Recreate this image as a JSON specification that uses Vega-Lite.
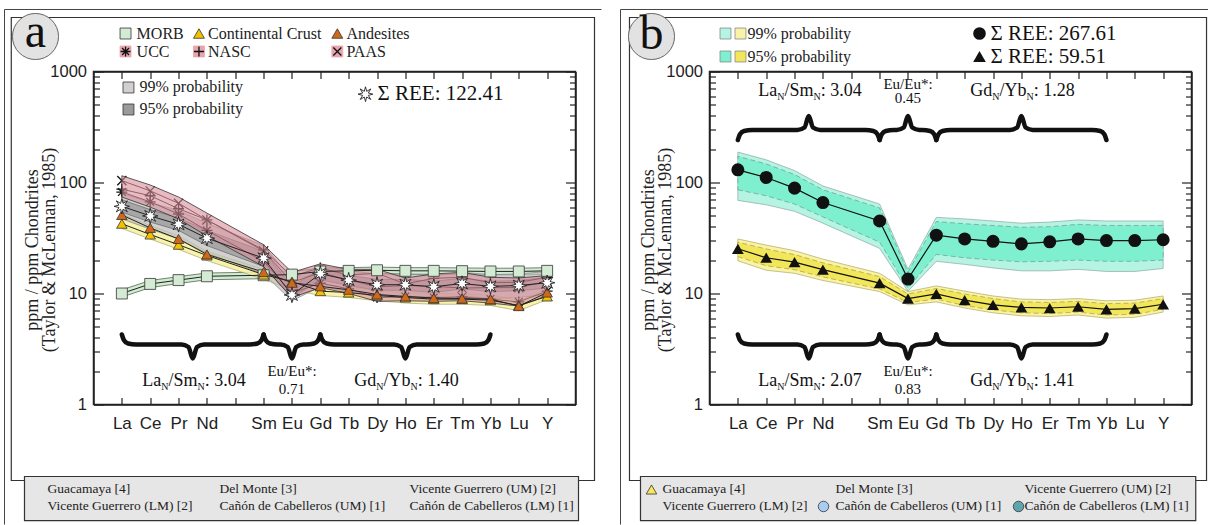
{
"$schema":"https://vega.github.io/schema/vega-lite/v6.json",
"background":"white",
"padding":{"left":2.5,"top":7.5,"right":0,"bottom":0},
"autosize":{"type":"pad"},
"spacing":134,
"bounds":"flush",
"config":{"view":{"stroke":"#222","strokeWidth":1.5},"axis":{"domainColor":"#222","domainWidth":1.5,"tickColor":"#222","tickWidth":1.2,"grid":false}},
"datasets":{
"a":[
{"i":1,"morb":10.0,"mlo":9.3,"mhi":10.8,"cc":42.5,"an":51,"smp":61,"ucc":82,"nasc":87,"paas":104,"rlo":74,"rhi":115,"g99lo":47,"g99hi":80,"g95lo":54,"g95hi":70,"ylo":38.5,"yhi":52},
{"i":2,"morb":12.2,"mlo":11.3,"mhi":13.1,"cc":34,"an":39,"smp":50,"ucc":67,"nasc":76,"paas":84,"rlo":60,"rhi":95,"g99lo":38,"g99hi":66,"g95lo":44,"g95hi":57,"ylo":31,"yhi":41},
{"i":3,"morb":13.2,"mlo":12.3,"mhi":14.2,"cc":27.5,"an":31,"smp":42,"ucc":52,"nasc":58,"paas":65,"rlo":47,"rhi":74,"g99lo":31,"g99hi":56,"g95lo":37,"g95hi":48,"ylo":25,"yhi":33},
{"i":4,"morb":14.3,"mlo":13.3,"mhi":15.3,"cc":22,"an":22.5,"smp":31.5,"ucc":37,"nasc":46,"paas":46,"rlo":33,"rhi":53,"g99lo":23,"g99hi":43,"g95lo":27,"g95hi":37,"ylo":19.8,"yhi":24},
{"i":6,"morb":14.6,"mlo":13.6,"mhi":15.6,"cc":14.8,"an":15.6,"smp":20.8,"ucc":19.5,"nasc":24.7,"paas":24.2,"rlo":17.5,"rhi":27.5,"g99lo":15,"g99hi":27,"g95lo":17.5,"g95hi":24,"ylo":13.4,"yhi":16.5},
{"i":7,"morb":14.8,"mlo":13.8,"mhi":15.8,"cc":12.8,"an":12.5,"smp":9.7,"ucc":10.1,"nasc":14.3,"paas":12.6,"rlo":9.2,"rhi":15.5,"g99lo":8.6,"g99hi":13.5,"g95lo":9.1,"g95hi":11.5,"ylo":10.8,"yhi":13.6},
{"i":8,"morb":15.8,"mlo":14.7,"mhi":16.9,"cc":10.5,"an":11.6,"smp":15.1,"ucc":12.4,"nasc":17.0,"paas":15.4,"rlo":11.3,"rhi":18.5,"g99lo":11.5,"g99hi":18,"g95lo":13.3,"g95hi":16.8,"ylo":9.6,"yhi":12.2},
{"i":9,"morb":16.0,"mlo":14.9,"mhi":17.1,"cc":10.2,"an":10.8,"smp":13.2,"ucc":11.0,"nasc":14.7,"paas":13.3,"rlo":10,"rhi":16.5,"g99lo":10.5,"g99hi":16,"g95lo":11.8,"g95hi":14.6,"ylo":9.2,"yhi":11.5},
{"i":10,"morb":16.2,"mlo":15.1,"mhi":17.3,"cc":9.6,"an":9.8,"smp":12.0,"ucc":9.2,"nasc":15.2,"paas":11.5,"rlo":8.5,"rhi":16.5,"g99lo":9.3,"g99hi":15,"g95lo":10.7,"g95hi":13.4,"ylo":8.6,"yhi":10.6},
{"i":11,"morb":16.0,"mlo":14.9,"mhi":17.1,"cc":9.2,"an":9.4,"smp":12.0,"ucc":9.4,"nasc":12.2,"paas":11.8,"rlo":8.6,"rhi":13.8,"g99lo":9.2,"g99hi":15,"g95lo":10.7,"g95hi":13.4,"ylo":8.2,"yhi":10.2},
{"i":12,"morb":16.0,"mlo":14.9,"mhi":17.1,"cc":8.9,"an":9.1,"smp":11.5,"ucc":9.2,"nasc":13.7,"paas":11.6,"rlo":8.5,"rhi":15,"g99lo":8.8,"g99hi":14.5,"g95lo":10.2,"g95hi":12.9,"ylo":8.0,"yhi":10.0},
{"i":13,"morb":15.9,"mlo":14.8,"mhi":17.0,"cc":8.9,"an":9.0,"smp":12.3,"ucc":9.3,"nasc":14.0,"paas":11.2,"rlo":8.6,"rhi":15.5,"g99lo":9.5,"g99hi":15.5,"g95lo":11,"g95hi":13.7,"ylo":8.0,"yhi":9.9},
{"i":14,"morb":15.8,"mlo":14.7,"mhi":16.9,"cc":8.7,"an":8.9,"smp":11.6,"ucc":8.9,"nasc":12.5,"paas":11.3,"rlo":8.2,"rhi":14,"g99lo":9,"g99hi":14.8,"g95lo":10.4,"g95hi":12.9,"ylo":7.8,"yhi":9.8},
{"i":15,"morb":15.8,"mlo":14.7,"mhi":16.9,"cc":7.8,"an":7.7,"smp":11.8,"ucc":8.4,"nasc":12.6,"paas":11.3,"rlo":7.7,"rhi":13.8,"g99lo":9.2,"g99hi":15,"g95lo":10.6,"g95hi":13.1,"ylo":7.0,"yhi":8.6},
{"i":16,"morb":16.0,"mlo":14.9,"mhi":17.1,"cc":9.4,"an":10.2,"smp":12.5,"ucc":10.5,"nasc":14.0,"paas":12.9,"rlo":9.6,"rhi":14.5,"g99lo":9.8,"g99hi":15.8,"g95lo":11.2,"g95hi":14,"ylo":8.8,"yhi":10.8}
],
"b":[
{"i":1,"c":130,"c99lo":69,"c99hi":188,"c95lo":86,"c95hi":172,"t":25.3,"t99lo":19.7,"t99hi":31,"t95lo":21.5,"t95hi":29},
{"i":2,"c":111,"c99lo":63,"c99hi":160,"c95lo":76,"c95hi":147,"t":21,"t99lo":16.2,"t99hi":27.3,"t95lo":17.8,"t95hi":25.2},
{"i":3,"c":89,"c99lo":55,"c99hi":128,"c95lo":64,"c95hi":118,"t":19.2,"t99lo":15.2,"t99hi":24.3,"t95lo":16.4,"t95hi":22.4},
{"i":4,"c":66,"c99lo":43,"c99hi":93,"c95lo":49,"c95hi":86,"t":16.4,"t99lo":13.1,"t99hi":20.4,"t95lo":14.1,"t95hi":18.9},
{"i":6,"c":45,"c99lo":25.5,"c99hi":64,"c95lo":29,"c95hi":59,"t":12.4,"t99lo":10.4,"t99hi":15.2,"t95lo":11.0,"t95hi":14.2},
{"i":7,"c":13.5,"c99lo":10.5,"c99hi":16.5,"c95lo":11.2,"c95hi":15.6,"t":9.0,"t99lo":7.9,"t99hi":10.4,"t95lo":8.3,"t95hi":9.9},
{"i":8,"c":33.5,"c99lo":19.5,"c99hi":48.5,"c95lo":22.5,"c95hi":44.5,"t":9.9,"t99lo":8.4,"t99hi":11.7,"t95lo":8.9,"t95hi":11.1},
{"i":9,"c":31,"c99lo":18.3,"c99hi":47,"c95lo":21,"c95hi":42.5,"t":8.7,"t99lo":7.4,"t99hi":10.5,"t95lo":7.8,"t95hi":9.9},
{"i":10,"c":29.5,"c99lo":17,"c99hi":45,"c95lo":20,"c95hi":41,"t":7.9,"t99lo":6.7,"t99hi":9.5,"t95lo":7.1,"t95hi":9.0},
{"i":11,"c":28,"c99lo":16,"c99hi":43,"c95lo":19.3,"c95hi":39.5,"t":7.5,"t99lo":6.3,"t99hi":8.9,"t95lo":6.7,"t95hi":8.4},
{"i":12,"c":29.2,"c99lo":16,"c99hi":44,"c95lo":19.5,"c95hi":40,"t":7.4,"t99lo":6.2,"t99hi":8.8,"t95lo":6.6,"t95hi":8.3},
{"i":13,"c":31,"c99lo":16.5,"c99hi":46,"c95lo":20,"c95hi":42,"t":7.6,"t99lo":6.4,"t99hi":9.0,"t95lo":6.8,"t95hi":8.5},
{"i":14,"c":30,"c99lo":15.8,"c99hi":45,"c95lo":19.5,"c95hi":41,"t":7.2,"t99lo":6.0,"t99hi":8.6,"t95lo":6.4,"t95hi":8.1},
{"i":15,"c":30,"c99lo":15.8,"c99hi":45,"c95lo":19.5,"c95hi":41,"t":7.3,"t99lo":6.1,"t99hi":8.7,"t95lo":6.5,"t95hi":8.2},
{"i":16,"c":30.5,"c99lo":16.8,"c99hi":45,"c95lo":20,"c95hi":41,"t":8.0,"t99lo":6.8,"t99hi":9.5,"t95lo":7.2,"t95hi":9.0}
],
"brL":[
{"b":1,"x":1,"y":4.272},{"b":1,"x":1.07,"y":3.811},{"b":1,"x":1.22,"y":3.544},{"b":1,"x":1.5,"y":3.471},{"b":1,"x":3.1,"y":3.471},{"b":1,"x":3.35,"y":3.296},{"b":1,"x":3.5,"y":2.597},{"b":1,"x":3.65,"y":3.296},{"b":1,"x":3.9,"y":3.471},{"b":1,"x":5.5,"y":3.471},{"b":1,"x":5.78,"y":3.544},{"b":1,"x":5.93,"y":3.811},{"b":1,"x":6,"y":4.272},
{"b":2,"x":6,"y":4.272},{"b":2,"x":6.07,"y":3.811},{"b":2,"x":6.22,"y":3.544},{"b":2,"x":6.5,"y":3.471},{"b":2,"x":6.6,"y":3.471},{"b":2,"x":6.85,"y":3.296},{"b":2,"x":7,"y":2.597},{"b":2,"x":7.15,"y":3.296},{"b":2,"x":7.4,"y":3.471},{"b":2,"x":7.5,"y":3.471},{"b":2,"x":7.78,"y":3.544},{"b":2,"x":7.93,"y":3.811},{"b":2,"x":8,"y":4.272},
{"b":3,"x":8,"y":4.272},{"b":3,"x":8.07,"y":3.811},{"b":3,"x":8.22,"y":3.544},{"b":3,"x":8.5,"y":3.471},{"b":3,"x":10.6,"y":3.471},{"b":3,"x":10.85,"y":3.296},{"b":3,"x":11,"y":2.597},{"b":3,"x":11.15,"y":3.296},{"b":3,"x":11.4,"y":3.471},{"b":3,"x":13.5,"y":3.471},{"b":3,"x":13.78,"y":3.544},{"b":3,"x":13.93,"y":3.811},{"b":3,"x":14,"y":4.272}
],
"brT":[
{"b":1,"x":1,"y":241.5},{"b":1,"x":1.07,"y":270.7},{"b":1,"x":1.22,"y":291.1},{"b":1,"x":1.5,"y":297.2},{"b":1,"x":3.1,"y":297.2},{"b":1,"x":3.35,"y":313.1},{"b":1,"x":3.5,"y":397.3},{"b":1,"x":3.65,"y":313.1},{"b":1,"x":3.9,"y":297.2},{"b":1,"x":5.5,"y":297.2},{"b":1,"x":5.78,"y":291.1},{"b":1,"x":5.93,"y":270.7},{"b":1,"x":6,"y":241.5},
{"b":2,"x":6,"y":241.5},{"b":2,"x":6.07,"y":270.7},{"b":2,"x":6.22,"y":291.1},{"b":2,"x":6.5,"y":297.2},{"b":2,"x":6.6,"y":297.2},{"b":2,"x":6.85,"y":313.1},{"b":2,"x":7,"y":397.3},{"b":2,"x":7.15,"y":313.1},{"b":2,"x":7.4,"y":297.2},{"b":2,"x":7.5,"y":297.2},{"b":2,"x":7.78,"y":291.1},{"b":2,"x":7.93,"y":270.7},{"b":2,"x":8,"y":241.5},
{"b":3,"x":8,"y":241.5},{"b":3,"x":8.07,"y":270.7},{"b":3,"x":8.22,"y":291.1},{"b":3,"x":8.5,"y":297.2},{"b":3,"x":10.6,"y":297.2},{"b":3,"x":10.85,"y":313.1},{"b":3,"x":11,"y":397.3},{"b":3,"x":11.15,"y":313.1},{"b":3,"x":11.4,"y":297.2},{"b":3,"x":13.5,"y":297.2},{"b":3,"x":13.78,"y":291.1},{"b":3,"x":13.93,"y":270.7},{"b":3,"x":14,"y":241.5}
]
},
"hconcat":[
{
"width":482,"height":333,
"resolve":{"axis":{"x":"independent","y":"independent"},"scale":{"shape":"independent","fill":"independent","stroke":"independent"}},
"layer":[
{"data":{"values":[{"x":-3.139,"y":3619,"x2":-3.139,"y2":0.0829},{"x":-3.139,"y":3619,"x2":17.917,"y2":3619}]},
 "mark":{"type":"rule","color":"#444","strokeWidth":1},
 "encoding":{"x":{"field":"x","type":"quantitative","scale":{"domain":[0,17],"nice":false,"zero":false},"axis":null},"y":{"field":"y","type":"quantitative","scale":{"type":"log","domain":[1,1000],"nice":false},"axis":null},"x2":{"field":"x2"},"y2":{"field":"y2"}}},
{"data":{"values":[{"x":-2.9,"x2":17.67,"y":3066,"y2":0.2066}]},
 "mark":{"type":"rect","fill":"white","fillOpacity":0,"stroke":"#333","strokeWidth":1.2},
 "encoding":{"x":{"field":"x","type":"quantitative","scale":{"domain":[0,17],"nice":false,"zero":false},"axis":null},"y":{"field":"y","type":"quantitative","scale":{"type":"log","domain":[1,1000],"nice":false},"axis":null},"x2":{"field":"x2"},"y2":{"field":"y2"}}},
{"data":{"values":[{"x":-2.434,"x2":17.106,"y":0.2245,"y2":0.0901}]},
 "mark":{"type":"rect","fill":"#e6e6e6","stroke":"#333","strokeWidth":1.2},
 "encoding":{"x":{"field":"x","type":"quantitative","scale":{"domain":[0,17],"nice":false,"zero":false},"axis":null},"y":{"field":"y","type":"quantitative","scale":{"type":"log","domain":[1,1000],"nice":false},"axis":null},"x2":{"field":"x2"},"y2":{"field":"y2"}}},
{"data":{"name":"a"},
 "mark":{"type":"area","fill":"#d3ead3","stroke":"#4d6b4d","strokeWidth":0.8},
 "encoding":{"x":{"field":"i","type":"quantitative","scale":{"domain":[0,17],"nice":false,"zero":false},
   "axis":{"orient":"bottom","values":[1,2,3,4,5,6,7,8,9,10,11,12,13,14,15,16],"tickSize":-7,"labelExpr":"['','La','Ce','Pr','Nd','','Sm','Eu','Gd','Tb','Dy','Ho','Er','Tm','Yb','Lu','Y'][datum.value]","labelFont":"Liberation Sans","labelFontSize":17,"labelColor":"#222","labelPadding":18,"labelFlush":false,"labelOverlap":false,"title":null}},
  "y":{"field":"mlo","type":"quantitative","scale":{"type":"log","domain":[1,1000],"nice":false},
   "axis":{"orient":"left","values":[1,10,100,1000],"tickSize":-10,"labelExpr":"'' + datum.value","labelFont":"Liberation Sans","labelFontSize":16.5,"labelColor":"#222","labelPadding":17,"labelFlush":false,"labelOverlap":false,"title":["ppm / ppm Chondrites","(Taylor & McLennan, 1985)"],"titleFont":"Liberation Serif","titleFontSize":18,"titleFontWeight":"normal","titleColor":"#222","titleAngle":-90,"titleX":-70.5,"titleY":178,"titleAlign":"center","titleBaseline":"top","titleLineHeight":17}},
  "y2":{"field":"mhi"}}},
{"data":{"name":"a"},
 "mark":{"type":"area","fill":"#f6f19c","fillOpacity":0.85,"stroke":"#9a9560","strokeWidth":0.6},
 "encoding":{"x":{"field":"i","type":"quantitative","scale":{"domain":[0,17],"nice":false,"zero":false},
   "axis":{"orient":"top","values":[1,2,3,4,5,6,7,8,9,10,11,12,13,14,15,16],"tickSize":-7,"labels":false,"title":null}},
  "y":{"field":"ylo","type":"quantitative","scale":{"type":"log","domain":[1,1000],"nice":false},
   "axis":{"orient":"left","values":[2,3,4,5,6,7,8,9,20,30,40,50,60,70,80,90,200,300,400,500,600,700,800,900],"tickSize":-6,"labels":false,"domain":false,"title":null}},
  "y2":{"field":"yhi"}}},
{"data":{"name":"a"},
 "mark":{"type":"area","fill":"#bdbdbd","fillOpacity":0.7,"stroke":"#777","strokeWidth":0.6},
 "encoding":{"x":{"field":"i","type":"quantitative","scale":{"domain":[0,17],"nice":false,"zero":false},"axis":null},
  "y":{"field":"g99lo","type":"quantitative","scale":{"type":"log","domain":[1,1000],"nice":false},
   "axis":{"orient":"right","values":[1,10,100,1000],"tickSize":-10,"labels":false,"title":null}},
  "y2":{"field":"g99hi"}}},
{"data":{"name":"a"},
 "mark":{"type":"area","fill":"#8a8a8a","fillOpacity":0.6,"stroke":"#555","strokeWidth":0.6},
 "encoding":{"x":{"field":"i","type":"quantitative","scale":{"domain":[0,17],"nice":false,"zero":false},"axis":null},
  "y":{"field":"g95lo","type":"quantitative","scale":{"type":"log","domain":[1,1000],"nice":false},
   "axis":{"orient":"right","values":[2,3,4,5,6,7,8,9,20,30,40,50,60,70,80,90,200,300,400,500,600,700,800,900],"tickSize":-6,"labels":false,"domain":false,"title":null}},
  "y2":{"field":"g95hi"}}},
{"data":{"name":"a"},
 "transform":[{"fold":["ucc","nasc","paas"],"as":["k","v"]}],
 "mark":{"type":"line","color":"#222","strokeWidth":1},
 "encoding":{"x":{"field":"i","type":"quantitative","scale":{"domain":[0,17],"nice":false,"zero":false},"axis":null},
  "y":{"field":"v","type":"quantitative","scale":{"type":"log","domain":[1,1000],"nice":false},"axis":null},
  "detail":{"field":"k"}}},
{"data":{"name":"a"},
 "mark":{"type":"point","shape":"M0,-1L0,1M-1,0L1,0M-0.7,-0.7L0.7,0.7M-0.7,0.7L0.7,-0.7","filled":false,"color":"#111","strokeWidth":1.3,"size":120,"opacity":1},
 "encoding":{"x":{"field":"i","type":"quantitative","scale":{"domain":[0,17],"nice":false,"zero":false},"axis":null},
  "y":{"field":"ucc","type":"quantitative","scale":{"type":"log","domain":[1,1000],"nice":false},"axis":null}}},
{"data":{"name":"a"},
 "mark":{"type":"point","shape":"M0,-1L0,1M-1,0L1,0","filled":false,"color":"#111","strokeWidth":1.3,"size":120,"opacity":1},
 "encoding":{"x":{"field":"i","type":"quantitative","scale":{"domain":[0,17],"nice":false,"zero":false},"axis":null},
  "y":{"field":"nasc","type":"quantitative","scale":{"type":"log","domain":[1,1000],"nice":false},"axis":null}}},
{"data":{"name":"a"},
 "mark":{"type":"point","shape":"M-0.8,-0.8L0.8,0.8M-0.8,0.8L0.8,-0.8","filled":false,"color":"#111","strokeWidth":1.3,"size":130,"opacity":1},
 "encoding":{"x":{"field":"i","type":"quantitative","scale":{"domain":[0,17],"nice":false,"zero":false},"axis":null},
  "y":{"field":"paas","type":"quantitative","scale":{"type":"log","domain":[1,1000],"nice":false},"axis":null}}},
{"data":{"name":"a"},
 "mark":{"type":"area","fill":"#d88e9b","fillOpacity":0.6,"stroke":"#333","strokeWidth":0.8},
 "encoding":{"x":{"field":"i","type":"quantitative","scale":{"domain":[0,17],"nice":false,"zero":false},"axis":null},
  "y":{"field":"rlo","type":"quantitative","scale":{"type":"log","domain":[1,1000],"nice":false},"axis":null},
  "y2":{"field":"rhi"}}},
{"data":{"name":"a"},
 "transform":[{"fold":["morb","cc","an","smp"],"as":["k","v"]}],
 "mark":{"type":"line","color":"#222","strokeWidth":1},
 "encoding":{"x":{"field":"i","type":"quantitative","scale":{"domain":[0,17],"nice":false,"zero":false},"axis":null},
  "y":{"field":"v","type":"quantitative","scale":{"type":"log","domain":[1,1000],"nice":false},"axis":null},
  "detail":{"field":"k"}}},
{"data":{"name":"a"},
 "mark":{"type":"point","shape":"square","filled":true,"fill":"#d3ead3","stroke":"#333","strokeWidth":0.8,"size":120,"opacity":1},
 "encoding":{"x":{"field":"i","type":"quantitative","scale":{"domain":[0,17],"nice":false,"zero":false},"axis":null},
  "y":{"field":"morb","type":"quantitative","scale":{"type":"log","domain":[1,1000],"nice":false},"axis":null}}},
{"data":{"name":"a"},
 "mark":{"type":"point","shape":"triangle-up","filled":true,"fill":"#f2c200","stroke":"#333","strokeWidth":0.8,"size":110,"opacity":1},
 "encoding":{"x":{"field":"i","type":"quantitative","scale":{"domain":[0,17],"nice":false,"zero":false},"axis":null},
  "y":{"field":"cc","type":"quantitative","scale":{"type":"log","domain":[1,1000],"nice":false},"axis":null}}},
{"data":{"name":"a"},
 "mark":{"type":"point","shape":"triangle-up","filled":true,"fill":"#d0681c","stroke":"#333","strokeWidth":0.8,"size":110,"opacity":1},
 "encoding":{"x":{"field":"i","type":"quantitative","scale":{"domain":[0,17],"nice":false,"zero":false},"axis":null},
  "y":{"field":"an","type":"quantitative","scale":{"type":"log","domain":[1,1000],"nice":false},"axis":null}}},
{"data":{"name":"a"},
 "mark":{"type":"point","shape":"M0,-1L0.16,-0.38L0.71,-0.71L0.38,-0.16L1,0L0.38,0.16L0.71,0.71L0.16,0.38L0,1L-0.16,0.38L-0.71,0.71L-0.38,0.16L-1,0L-0.38,-0.16L-0.71,-0.71L-0.16,-0.38Z","filled":true,"fill":"white","stroke":"#222","strokeWidth":0.9,"size":240,"opacity":1},
 "encoding":{"x":{"field":"i","type":"quantitative","scale":{"domain":[0,17],"nice":false,"zero":false},"axis":null},
  "y":{"field":"smp","type":"quantitative","scale":{"type":"log","domain":[1,1000],"nice":false},"axis":null}}},
{"data":{"name":"brL"},
 "mark":{"type":"line","color":"#111","strokeWidth":4.5,"interpolate":"monotone","strokeCap":"round"},
 "encoding":{"x":{"field":"x","type":"quantitative","scale":{"domain":[0,17],"nice":false,"zero":false},"axis":null},
  "y":{"field":"y","type":"quantitative","scale":{"type":"log","domain":[1,1000],"nice":false},"axis":null},
  "detail":{"field":"b"}}},
{"data":{"values":[{"x":1.13,"y":2199,"k":"morb"},{"x":3.72,"y":2199,"k":"cc"},{"x":8.6,"y":2199,"k":"an"},{"x":1.13,"y":1514,"k":"ucc"},{"x":3.72,"y":1514,"k":"nasc"},{"x":8.6,"y":1514,"k":"paas"},{"x":1.234,"y":717.8,"k":"g99"},{"x":1.234,"y":454.7,"k":"g95"}]},
 "mark":{"type":"point","filled":true,"strokeWidth":0.8,"size":120,"opacity":1},
 "encoding":{"x":{"field":"x","type":"quantitative","scale":{"domain":[0,17],"nice":false,"zero":false},"axis":null},
  "y":{"field":"y","type":"quantitative","scale":{"type":"log","domain":[1,1000],"nice":false},"axis":null},
  "shape":{"field":"k","type":"nominal","legend":null,"scale":{"domain":["morb","cc","an","ucc","nasc","paas","g99","g95"],"range":["square","triangle-up","triangle-up","square","square","square","square","square"]}},
  "fill":{"field":"k","type":"nominal","legend":null,"scale":{"domain":["morb","cc","an","ucc","nasc","paas","g99","g95"],"range":["#d3ead3","#f2c200","#d0681c","#e6a5af","#e6a5af","#e6a5af","#d0d0d0","#9a9a9a"]}},
  "stroke":{"field":"k","type":"nominal","legend":null,"scale":{"domain":["morb","cc","an","ucc","nasc","paas","g99","g95"],"range":["#333","#333","#333","#e6a5af","#e6a5af","#e6a5af","#333","#333"]}}}},
{"data":{"values":[{"x":1.13,"y":1514,"k":"ucc"},{"x":3.72,"y":1514,"k":"nasc"},{"x":8.6,"y":1514,"k":"paas"}]},
 "mark":{"type":"point","filled":false,"color":"#111","strokeWidth":1.3,"size":100,"opacity":1},
 "encoding":{"x":{"field":"x","type":"quantitative","scale":{"domain":[0,17],"nice":false,"zero":false},"axis":null},
  "y":{"field":"y","type":"quantitative","scale":{"type":"log","domain":[1,1000],"nice":false},"axis":null},
  "shape":{"field":"k","type":"nominal","legend":null,"scale":{"domain":["ucc","nasc","paas"],"range":["M0,-1L0,1M-1,0L1,0M-0.7,-0.7L0.7,0.7M-0.7,0.7L0.7,-0.7","M0,-1L0,1M-1,0L1,0","M-0.8,-0.8L0.8,0.8M-0.8,0.8L0.8,-0.8"]}}}},
{"data":{"values":[{"x":9.593,"y":624.6}]},
 "mark":{"type":"point","shape":"M0,-1L0.16,-0.38L0.71,-0.71L0.38,-0.16L1,0L0.38,0.16L0.71,0.71L0.16,0.38L0,1L-0.16,0.38L-0.71,0.71L-0.38,0.16L-1,0L-0.38,-0.16L-0.71,-0.71L-0.16,-0.38Z","filled":true,"fill":"white","stroke":"#222","strokeWidth":0.9,"size":220,"opacity":1},
 "encoding":{"x":{"field":"x","type":"quantitative","scale":{"domain":[0,17],"nice":false,"zero":false},"axis":null},
  "y":{"field":"y","type":"quantitative","scale":{"type":"log","domain":[1,1000],"nice":false},"axis":null}}},
{"data":{"values":[{"x":1.52,"y":2199,"t":"MORB"},{"x":4.04,"y":2199,"t":"Continental Crust"},{"x":8.92,"y":2199,"t":"Andesites"},{"x":1.52,"y":1514,"t":"UCC"},{"x":4.04,"y":1514,"t":"NASC"},{"x":8.92,"y":1514,"t":"PAAS"},{"x":1.622,"y":717.8,"t":"99% probability"},{"x":1.622,"y":454.7,"t":"95% probability"}]},
 "mark":{"type":"text","font":"Liberation Serif","fontSize":16,"align":"left","baseline":"middle","color":"#222"},
 "encoding":{"x":{"field":"x","type":"quantitative","scale":{"domain":[0,17],"nice":false,"zero":false},"axis":null},
  "y":{"field":"y","type":"quantitative","scale":{"type":"log","domain":[1,1000],"nice":false},"axis":null},"text":{"field":"t"}}},
{"data":{"values":[{"x":10.017,"y":624.6,"t":"Σ REE: 122.41"}]},
 "mark":{"type":"text","font":"Liberation Serif","fontSize":21,"align":"left","baseline":"middle","color":"#111"},
 "encoding":{"x":{"field":"x","type":"quantitative","scale":{"domain":[0,17],"nice":false,"zero":false},"axis":null},
  "y":{"field":"y","type":"quantitative","scale":{"type":"log","domain":[1,1000],"nice":false},"axis":null},"text":{"field":"t"}}},
{"data":{"values":[{"x":1.721,"y":1.453,"t":"La"},{"x":2.645,"y":1.453,"t":"/Sm"},{"x":3.922,"y":1.453,"t":": 3.04"},{"x":9.198,"y":1.453,"t":"Gd"},{"x":10.228,"y":1.453,"t":"/Yb"},{"x":11.434,"y":1.453,"t":": 1.40"}]},
 "mark":{"type":"text","font":"Liberation Serif","fontSize":18,"align":"left","baseline":"alphabetic","color":"#111"},
 "encoding":{"x":{"field":"x","type":"quantitative","scale":{"domain":[0,17],"nice":false,"zero":false},"axis":null},
  "y":{"field":"y","type":"quantitative","scale":{"type":"log","domain":[1,1000],"nice":false},"axis":null},"text":{"field":"t"}}},
{"data":{"values":[{"x":2.391,"y":1.365,"t":"N"},{"x":3.668,"y":1.365,"t":"N"},{"x":9.975,"y":1.365,"t":"N"},{"x":11.181,"y":1.365,"t":"N"}]},
 "mark":{"type":"text","font":"Liberation Serif","fontSize":10,"align":"left","baseline":"alphabetic","color":"#111"},
 "encoding":{"x":{"field":"x","type":"quantitative","scale":{"domain":[0,17],"nice":false,"zero":false},"axis":null},
  "y":{"field":"y","type":"quantitative","scale":{"type":"log","domain":[1,1000],"nice":false},"axis":null},"text":{"field":"t"}}},
{"data":{"values":[{"x":7,"y":1.788,"t":"Eu/Eu*:"},{"x":7,"y":1.256,"t":"0.71"}]},
 "mark":{"type":"text","font":"Liberation Serif","fontSize":15,"align":"center","baseline":"alphabetic","color":"#111"},
 "encoding":{"x":{"field":"x","type":"quantitative","scale":{"domain":[0,17],"nice":false,"zero":false},"axis":null},
  "y":{"field":"y","type":"quantitative","scale":{"type":"log","domain":[1,1000],"nice":false},"axis":null},"text":{"field":"t"}}},
{"data":{"values":[{"x":-1.622,"y":0.1715,"t":"Guacamaya [4]"},{"x":4.444,"y":0.1715,"t":"Del Monte [3]"},{"x":11.145,"y":0.1715,"t":"Vicente Guerrero (UM) [2]"},{"x":-1.622,"y":0.1206,"t":"Vicente Guerrero (LM) [2]"},{"x":4.444,"y":0.1206,"t":"Cañón de Cabelleros (UM) [1]"},{"x":11.145,"y":0.1206,"t":"Cañón de Cabelleros (LM) [1]"}]},
 "mark":{"type":"text","font":"Liberation Serif","fontSize":13.5,"align":"left","baseline":"middle","color":"#222"},
 "encoding":{"x":{"field":"x","type":"quantitative","scale":{"domain":[0,17],"nice":false,"zero":false},"axis":null},
  "y":{"field":"y","type":"quantitative","scale":{"type":"log","domain":[1,1000],"nice":false},"axis":null},"text":{"field":"t"}}},
{"data":{"values":[{"x":-2.046,"y":2067,"t":"a"}]},
 "mark":{"type":"point","shape":"circle","filled":true,"fill":"#e2e2e2","stroke":"#666","strokeWidth":1,"size":2124,"opacity":1},
 "encoding":{"x":{"field":"x","type":"quantitative","scale":{"domain":[0,17],"nice":false,"zero":false},"axis":null},
  "y":{"field":"y","type":"quantitative","scale":{"type":"log","domain":[1,1000],"nice":false},"axis":null}}},
{"data":{"values":[{"x":-2.046,"y":2067,"t":"a"}]},
 "mark":{"type":"text","font":"Liberation Serif","fontSize":48,"align":"center","baseline":"middle","dy":-3,"color":"#111"},
 "encoding":{"x":{"field":"x","type":"quantitative","scale":{"domain":[0,17],"nice":false,"zero":false},"axis":null},
  "y":{"field":"y","type":"quantitative","scale":{"type":"log","domain":[1,1000],"nice":false},"axis":null},"text":{"field":"t"}}}
]
},
{
"width":482,"height":333,
"resolve":{"axis":{"x":"independent","y":"independent"},"scale":{"shape":"independent","fill":"independent","stroke":"independent"}},
"layer":[
{"data":{"values":[{"x":-3.139,"y":3619,"x2":-3.139,"y2":0.0829},{"x":-3.139,"y":3619,"x2":17.6,"y2":3619}]},
 "mark":{"type":"rule","color":"#444","strokeWidth":1},
 "encoding":{"x":{"field":"x","type":"quantitative","scale":{"domain":[0,17],"nice":false,"zero":false},"axis":null},"y":{"field":"y","type":"quantitative","scale":{"type":"log","domain":[1,1000],"nice":false},"axis":null},"x2":{"field":"x2"},"y2":{"field":"y2"}}},
{"data":{"values":[{"x":-2.822,"x2":17.53,"y":3066,"y2":0.2066}]},
 "mark":{"type":"rect","fill":"white","fillOpacity":0,"stroke":"#333","strokeWidth":1.2},
 "encoding":{"x":{"field":"x","type":"quantitative","scale":{"domain":[0,17],"nice":false,"zero":false},"axis":null},"y":{"field":"y","type":"quantitative","scale":{"type":"log","domain":[1,1000],"nice":false},"axis":null},"x2":{"field":"x2"},"y2":{"field":"y2"}}},
{"data":{"values":[{"x":-2.434,"x2":17.15,"y":0.2245,"y2":0.0901}]},
 "mark":{"type":"rect","fill":"#e6e6e6","stroke":"#333","strokeWidth":1.2},
 "encoding":{"x":{"field":"x","type":"quantitative","scale":{"domain":[0,17],"nice":false,"zero":false},"axis":null},"y":{"field":"y","type":"quantitative","scale":{"type":"log","domain":[1,1000],"nice":false},"axis":null},"x2":{"field":"x2"},"y2":{"field":"y2"}}},
{"data":{"name":"b"},
 "mark":{"type":"area","fill":"#b5f4e2","stroke":"#8aa8a0","strokeWidth":0.7},
 "encoding":{"x":{"field":"i","type":"quantitative","scale":{"domain":[0,17],"nice":false,"zero":false},
   "axis":{"orient":"bottom","values":[1,2,3,4,5,6,7,8,9,10,11,12,13,14,15,16],"tickSize":-7,"labelExpr":"['','La','Ce','Pr','Nd','','Sm','Eu','Gd','Tb','Dy','Ho','Er','Tm','Yb','Lu','Y'][datum.value]","labelFont":"Liberation Sans","labelFontSize":17,"labelColor":"#222","labelPadding":18,"labelFlush":false,"labelOverlap":false,"title":null}},
  "y":{"field":"c99lo","type":"quantitative","scale":{"type":"log","domain":[1,1000],"nice":false},
   "axis":{"orient":"left","values":[1,10,100,1000],"tickSize":-10,"labelExpr":"'' + datum.value","labelFont":"Liberation Sans","labelFontSize":16.5,"labelColor":"#222","labelPadding":17,"labelFlush":false,"labelOverlap":false,"title":["ppm / ppm Chondrites","(Taylor & McLennan, 1985)"],"titleFont":"Liberation Serif","titleFontSize":18,"titleFontWeight":"normal","titleColor":"#222","titleAngle":-90,"titleX":-70.5,"titleY":178,"titleAlign":"center","titleBaseline":"top","titleLineHeight":17}},
  "y2":{"field":"c99hi"}}},
{"data":{"name":"b"},
 "mark":{"type":"area","fill":"#7ef0cf","stroke":"#6a9a8c","strokeWidth":0.7,"strokeDash":[5,3]},
 "encoding":{"x":{"field":"i","type":"quantitative","scale":{"domain":[0,17],"nice":false,"zero":false},
   "axis":{"orient":"top","values":[1,2,3,4,5,6,7,8,9,10,11,12,13,14,15,16],"tickSize":-7,"labels":false,"title":null}},
  "y":{"field":"c95lo","type":"quantitative","scale":{"type":"log","domain":[1,1000],"nice":false},
   "axis":{"orient":"left","values":[2,3,4,5,6,7,8,9,20,30,40,50,60,70,80,90,200,300,400,500,600,700,800,900],"tickSize":-6,"labels":false,"domain":false,"title":null}},
  "y2":{"field":"c95hi"}}},
{"data":{"name":"b"},
 "mark":{"type":"area","fill":"#f8f3a6","stroke":"#b0a860","strokeWidth":0.7},
 "encoding":{"x":{"field":"i","type":"quantitative","scale":{"domain":[0,17],"nice":false,"zero":false},"axis":null},
  "y":{"field":"t99lo","type":"quantitative","scale":{"type":"log","domain":[1,1000],"nice":false},
   "axis":{"orient":"right","values":[1,10,100,1000],"tickSize":-10,"labels":false,"title":null}},
  "y2":{"field":"t99hi"}}},
{"data":{"name":"b"},
 "mark":{"type":"area","fill":"#f2e65a","stroke":"#a89a40","strokeWidth":0.7,"strokeDash":[5,3]},
 "encoding":{"x":{"field":"i","type":"quantitative","scale":{"domain":[0,17],"nice":false,"zero":false},"axis":null},
  "y":{"field":"t95lo","type":"quantitative","scale":{"type":"log","domain":[1,1000],"nice":false},
   "axis":{"orient":"right","values":[2,3,4,5,6,7,8,9,20,30,40,50,60,70,80,90,200,300,400,500,600,700,800,900],"tickSize":-6,"labels":false,"domain":false,"title":null}},
  "y2":{"field":"t95hi"}}},
{"data":{"name":"b"},
 "transform":[{"fold":["c","t"],"as":["k","v"]}],
 "mark":{"type":"line","color":"#111","strokeWidth":1.2},
 "encoding":{"x":{"field":"i","type":"quantitative","scale":{"domain":[0,17],"nice":false,"zero":false},"axis":null},
  "y":{"field":"v","type":"quantitative","scale":{"type":"log","domain":[1,1000],"nice":false},"axis":null},
  "detail":{"field":"k"}}},
{"data":{"name":"b"},
 "mark":{"type":"point","shape":"circle","filled":true,"color":"#111","size":170,"opacity":1},
 "encoding":{"x":{"field":"i","type":"quantitative","scale":{"domain":[0,17],"nice":false,"zero":false},"axis":null},
  "y":{"field":"c","type":"quantitative","scale":{"type":"log","domain":[1,1000],"nice":false},"axis":null}}},
{"data":{"name":"b"},
 "mark":{"type":"point","shape":"triangle-up","filled":true,"color":"#111","size":140,"opacity":1},
 "encoding":{"x":{"field":"i","type":"quantitative","scale":{"domain":[0,17],"nice":false,"zero":false},"axis":null},
  "y":{"field":"t","type":"quantitative","scale":{"type":"log","domain":[1,1000],"nice":false},"axis":null}}},
{"data":{"name":"brL"},
 "mark":{"type":"line","color":"#111","strokeWidth":4.5,"interpolate":"monotone","strokeCap":"round"},
 "encoding":{"x":{"field":"x","type":"quantitative","scale":{"domain":[0,17],"nice":false,"zero":false},"axis":null},
  "y":{"field":"y","type":"quantitative","scale":{"type":"log","domain":[1,1000],"nice":false},"axis":null},
  "detail":{"field":"b"}}},
{"data":{"name":"brT"},
 "mark":{"type":"line","color":"#111","strokeWidth":4.5,"interpolate":"monotone","strokeCap":"round"},
 "encoding":{"x":{"field":"x","type":"quantitative","scale":{"domain":[0,17],"nice":false,"zero":false},"axis":null},
  "y":{"field":"y","type":"quantitative","scale":{"type":"log","domain":[1,1000],"nice":false},"axis":null},
  "detail":{"field":"b"}}},
{"data":{"values":[{"x":0.564,"y":2199,"k":"c99"},{"x":1.093,"y":2199,"k":"t99"},{"x":0.564,"y":1365,"k":"c95"},{"x":1.093,"y":1365,"k":"t95"}]},
 "mark":{"type":"point","shape":"square","filled":true,"stroke":"#888","strokeWidth":0.8,"size":120,"opacity":1},
 "encoding":{"x":{"field":"x","type":"quantitative","scale":{"domain":[0,17],"nice":false,"zero":false},"axis":null},
  "y":{"field":"y","type":"quantitative","scale":{"type":"log","domain":[1,1000],"nice":false},"axis":null},
  "fill":{"field":"k","type":"nominal","legend":null,"scale":{"domain":["c99","t99","c95","t95"],"range":["#b5f4e2","#f8f3a6","#7ef0cf","#f2e65a"]}}}},
{"data":{"values":[{"x":9.523,"y":2199,"k":"dot"},{"x":9.523,"y":1365,"k":"tri"}]},
 "mark":{"type":"point","filled":true,"color":"#111","size":160,"opacity":1},
 "encoding":{"x":{"field":"x","type":"quantitative","scale":{"domain":[0,17],"nice":false,"zero":false},"axis":null},
  "y":{"field":"y","type":"quantitative","scale":{"type":"log","domain":[1,1000],"nice":false},"axis":null},
  "shape":{"field":"k","type":"nominal","legend":null,"scale":{"domain":["dot","tri"],"range":["circle","triangle-up"]}}}},
{"data":{"values":[{"x":1.34,"y":2199,"t":"99% probability"},{"x":1.34,"y":1365,"t":"95% probability"}]},
 "mark":{"type":"text","font":"Liberation Serif","fontSize":16,"align":"left","baseline":"middle","color":"#222"},
 "encoding":{"x":{"field":"x","type":"quantitative","scale":{"domain":[0,17],"nice":false,"zero":false},"axis":null},
  "y":{"field":"y","type":"quantitative","scale":{"type":"log","domain":[1,1000],"nice":false},"axis":null},"text":{"field":"t"}}},
{"data":{"values":[{"x":9.911,"y":2199,"t":"Σ REE: 267.61"},{"x":9.911,"y":1365,"t":"Σ REE: 59.51"}]},
 "mark":{"type":"text","font":"Liberation Serif","fontSize":21,"align":"left","baseline":"middle","color":"#111"},
 "encoding":{"x":{"field":"x","type":"quantitative","scale":{"domain":[0,17],"nice":false,"zero":false},"axis":null},
  "y":{"field":"y","type":"quantitative","scale":{"type":"log","domain":[1,1000],"nice":false},"axis":null},"text":{"field":"t"}}},
{"data":{"values":[{"x":1.721,"y":1.453,"t":"La"},{"x":2.645,"y":1.453,"t":"/Sm"},{"x":3.922,"y":1.453,"t":": 2.07"},{"x":9.198,"y":1.453,"t":"Gd"},{"x":10.228,"y":1.453,"t":"/Yb"},{"x":11.434,"y":1.453,"t":": 1.41"},{"x":1.721,"y":595.5,"t":"La"},{"x":2.645,"y":595.5,"t":"/Sm"},{"x":3.922,"y":595.5,"t":": 3.04"},{"x":9.198,"y":595.5,"t":"Gd"},{"x":10.228,"y":595.5,"t":"/Yb"},{"x":11.434,"y":595.5,"t":": 1.28"}]},
 "mark":{"type":"text","font":"Liberation Serif","fontSize":18,"align":"left","baseline":"alphabetic","color":"#111"},
 "encoding":{"x":{"field":"x","type":"quantitative","scale":{"domain":[0,17],"nice":false,"zero":false},"axis":null},
  "y":{"field":"y","type":"quantitative","scale":{"type":"log","domain":[1,1000],"nice":false},"axis":null},"text":{"field":"t"}}},
{"data":{"values":[{"x":2.391,"y":1.365,"t":"N"},{"x":3.668,"y":1.365,"t":"N"},{"x":9.975,"y":1.365,"t":"N"},{"x":11.181,"y":1.365,"t":"N"},{"x":2.391,"y":559.4,"t":"N"},{"x":3.668,"y":559.4,"t":"N"},{"x":9.975,"y":559.4,"t":"N"},{"x":11.181,"y":559.4,"t":"N"}]},
 "mark":{"type":"text","font":"Liberation Serif","fontSize":10,"align":"left","baseline":"alphabetic","color":"#111"},
 "encoding":{"x":{"field":"x","type":"quantitative","scale":{"domain":[0,17],"nice":false,"zero":false},"axis":null},
  "y":{"field":"y","type":"quantitative","scale":{"type":"log","domain":[1,1000],"nice":false},"axis":null},"text":{"field":"t"}}},
{"data":{"values":[{"x":7,"y":1.788,"t":"Eu/Eu*:"},{"x":7,"y":1.256,"t":"0.83"},{"x":7,"y":702.8,"t":"Eu/Eu*:"},{"x":7,"y":514.9,"t":"0.45"}]},
 "mark":{"type":"text","font":"Liberation Serif","fontSize":15,"align":"center","baseline":"alphabetic","color":"#111"},
 "encoding":{"x":{"field":"x","type":"quantitative","scale":{"domain":[0,17],"nice":false,"zero":false},"axis":null},
  "y":{"field":"y","type":"quantitative","scale":{"type":"log","domain":[1,1000],"nice":false},"axis":null},"text":{"field":"t"}}},
{"data":{"values":[{"x":-2.046,"y":0.1715,"k":"gua"},{"x":4.021,"y":0.1206,"k":"cum"},{"x":10.899,"y":0.1206,"k":"clm"}]},
 "mark":{"type":"point","filled":true,"stroke":"#333","strokeWidth":0.8,"size":110,"opacity":1},
 "encoding":{"x":{"field":"x","type":"quantitative","scale":{"domain":[0,17],"nice":false,"zero":false},"axis":null},
  "y":{"field":"y","type":"quantitative","scale":{"type":"log","domain":[1,1000],"nice":false},"axis":null},
  "shape":{"field":"k","type":"nominal","legend":null,"scale":{"domain":["gua","cum","clm"],"range":["triangle-up","circle","circle"]}},
  "fill":{"field":"k","type":"nominal","legend":null,"scale":{"domain":["gua","cum","clm"],"range":["#f5e85a","#a9cdf2","#5fa5ad"]}}}},
{"data":{"values":[{"x":-1.658,"y":0.1715,"t":"Guacamaya [4]"},{"x":4.444,"y":0.1715,"t":"Del Monte [3]"},{"x":11.11,"y":0.1715,"t":"Vicente Guerrero (UM) [2]"},{"x":-1.658,"y":0.1206,"t":"Vicente Guerrero (LM) [2]"},{"x":4.444,"y":0.1206,"t":"Cañón de Cabelleros (UM) [1]"},{"x":11.11,"y":0.1206,"t":"Cañón de Cabelleros (LM) [1]"}]},
 "mark":{"type":"text","font":"Liberation Serif","fontSize":13.5,"align":"left","baseline":"middle","color":"#222"},
 "encoding":{"x":{"field":"x","type":"quantitative","scale":{"domain":[0,17],"nice":false,"zero":false},"axis":null},
  "y":{"field":"y","type":"quantitative","scale":{"type":"log","domain":[1,1000],"nice":false},"axis":null},"text":{"field":"t"}}},
{"data":{"values":[{"x":-2.046,"y":2067,"t":"b"}]},
 "mark":{"type":"point","shape":"circle","filled":true,"fill":"#e2e2e2","stroke":"#666","strokeWidth":1,"size":2124,"opacity":1},
 "encoding":{"x":{"field":"x","type":"quantitative","scale":{"domain":[0,17],"nice":false,"zero":false},"axis":null},
  "y":{"field":"y","type":"quantitative","scale":{"type":"log","domain":[1,1000],"nice":false},"axis":null}}},
{"data":{"values":[{"x":-2.046,"y":2067,"t":"b"}]},
 "mark":{"type":"text","font":"Liberation Serif","fontSize":48,"align":"center","baseline":"middle","dy":-1,"color":"#111"},
 "encoding":{"x":{"field":"x","type":"quantitative","scale":{"domain":[0,17],"nice":false,"zero":false},"axis":null},
  "y":{"field":"y","type":"quantitative","scale":{"type":"log","domain":[1,1000],"nice":false},"axis":null},"text":{"field":"t"}}}
]
}
]
}
